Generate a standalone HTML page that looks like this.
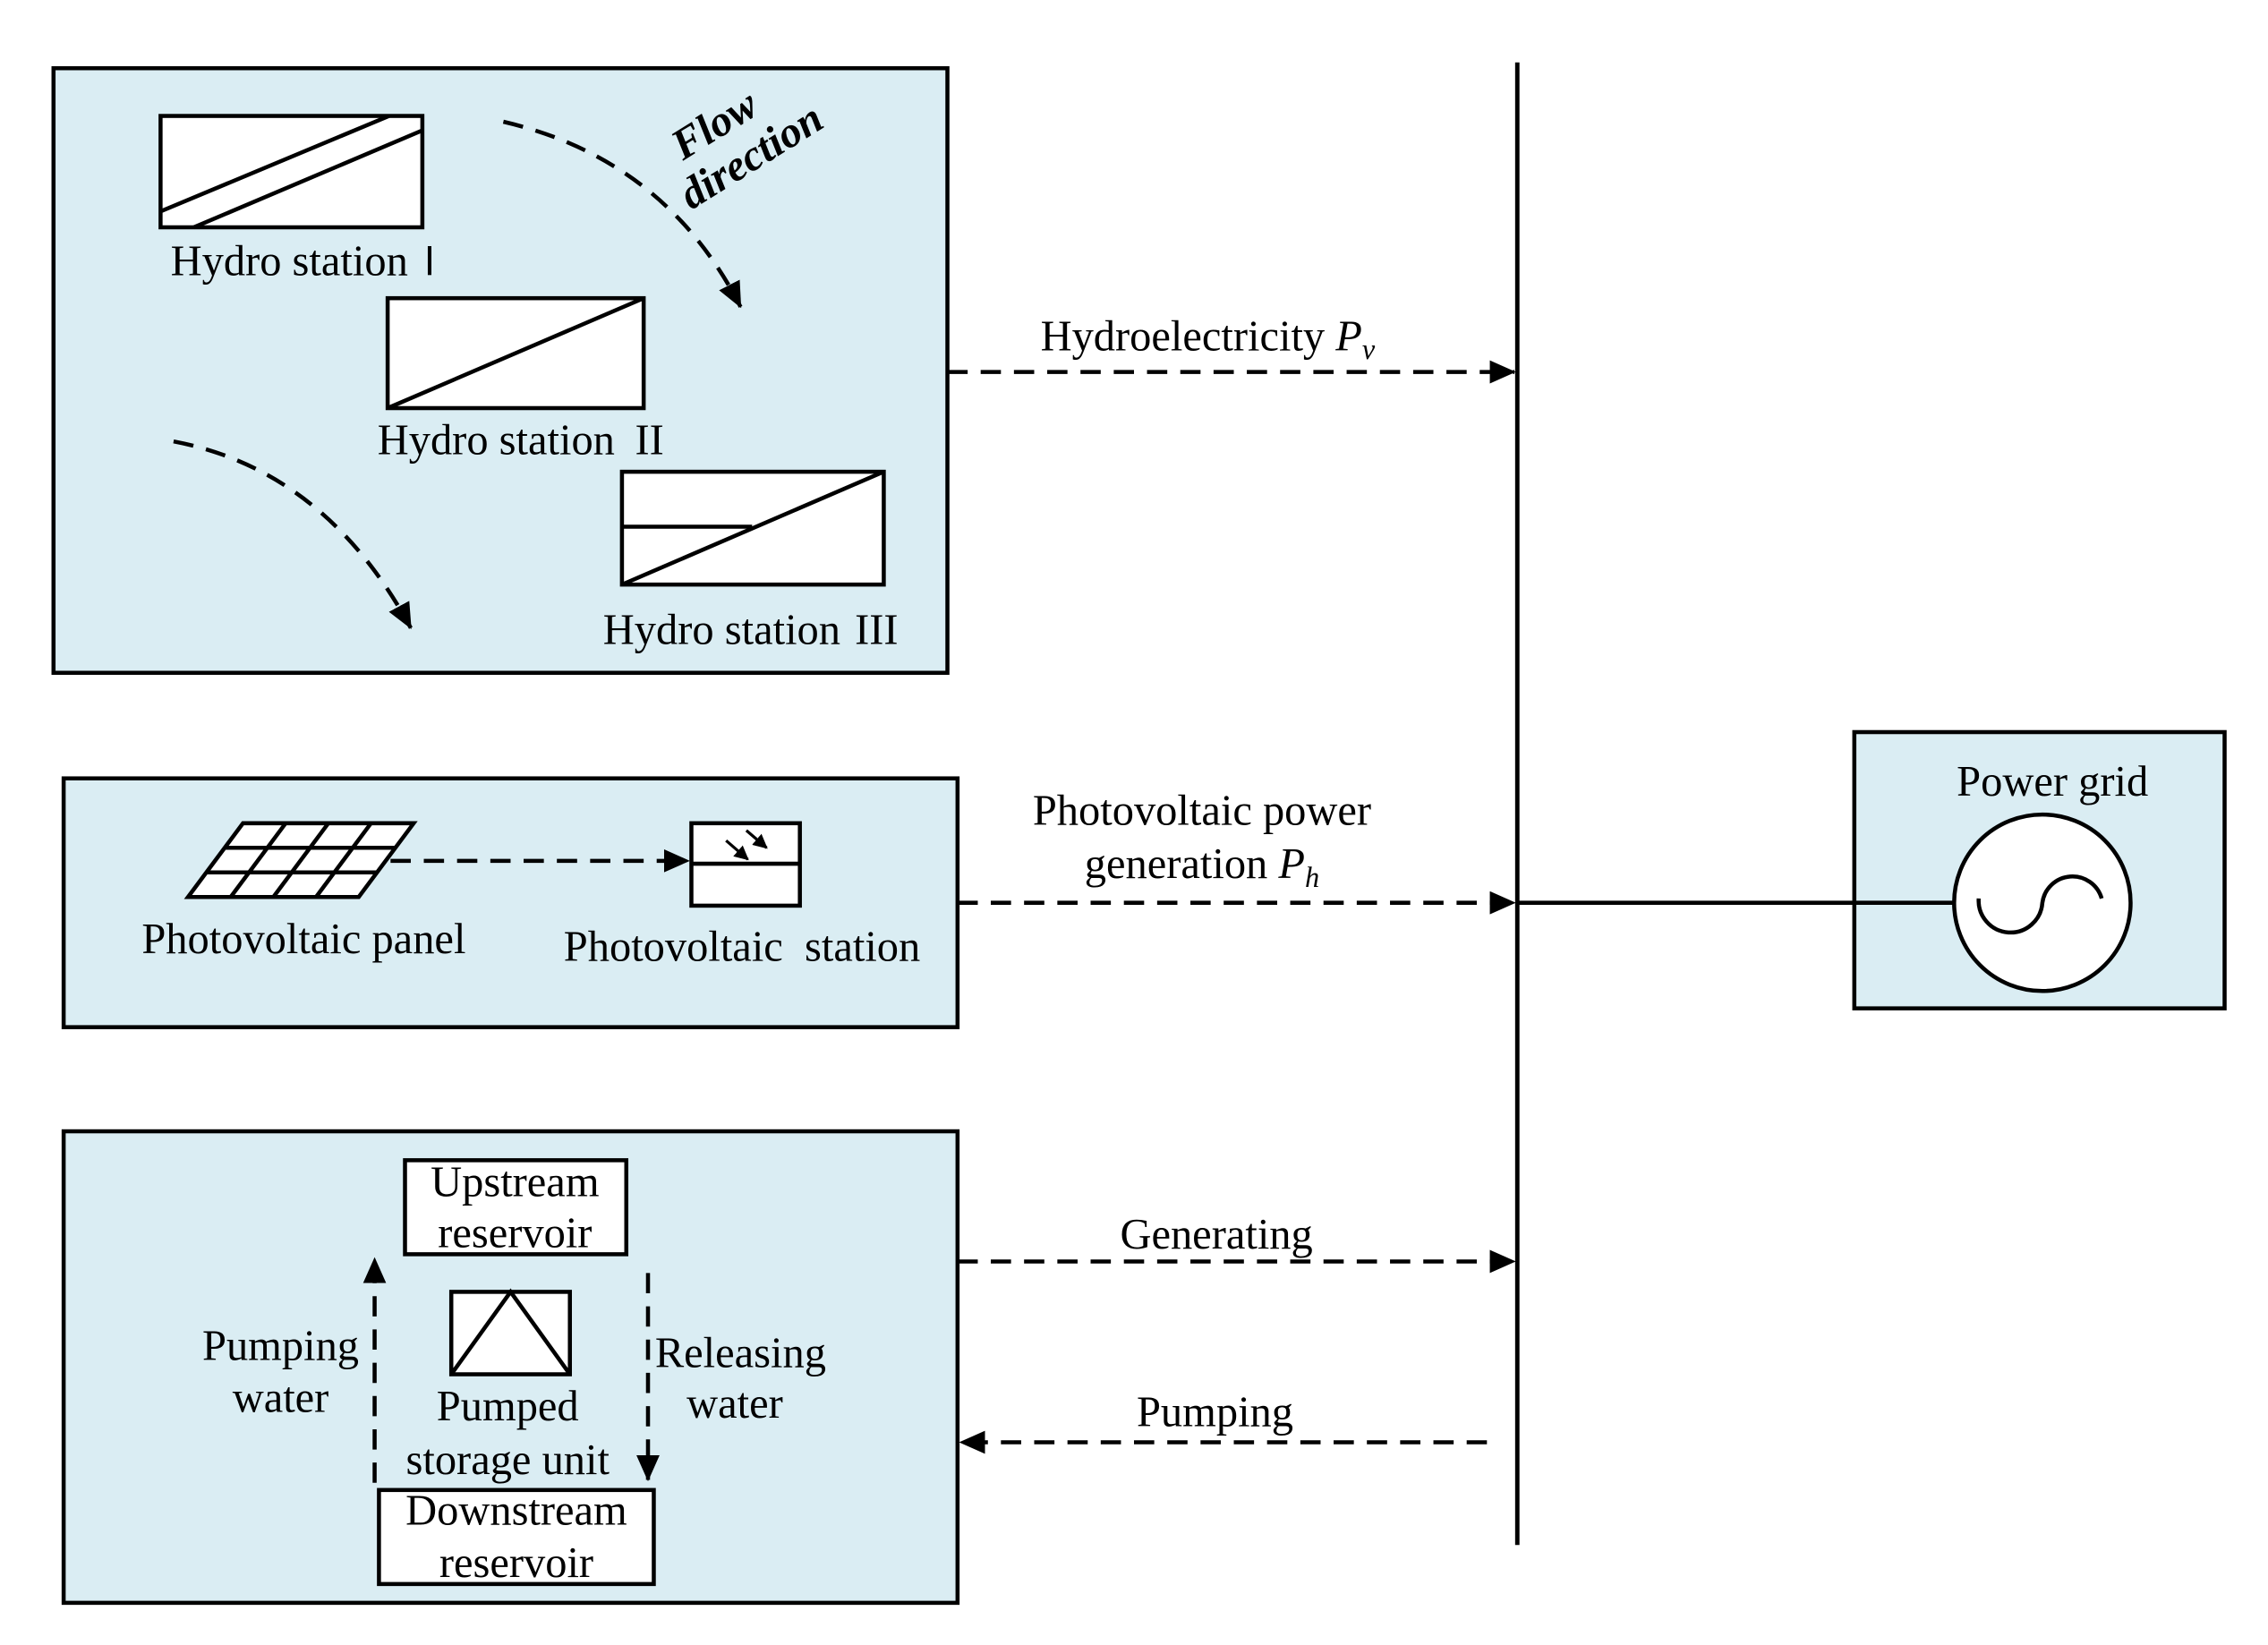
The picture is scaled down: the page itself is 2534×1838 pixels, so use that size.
<!DOCTYPE html>
<html><head><meta charset="utf-8"><style>html,body{margin:0;padding:0;background:#fff}svg{display:block}</style></head>
<body>
<svg width="2534" height="1838" viewBox="0 0 1568 1137" xmlns="http://www.w3.org/2000/svg" font-family="Liberation Serif, serif" font-size="30" fill="#000">
<defs>
<marker id="ah" markerWidth="10" markerHeight="10" refX="9" refY="5" orient="auto" markerUnits="userSpaceOnUse" viewBox="0 0 10 10"><path d="M0,0 L10,5 L0,10 z" fill="#000"/></marker>
<marker id="ahb" markerWidth="18" markerHeight="16" refX="17" refY="8" orient="auto" markerUnits="userSpaceOnUse" viewBox="0 0 18 16"><path d="M0,0 L18,8 L0,16 z" fill="#000"/></marker>
</defs>
<g stroke="#000" stroke-width="2.8">
<rect x="37" y="47" width="618" height="418" fill="#daedf3"/>
<rect x="44" y="538" width="618" height="172" fill="#daedf3"/>
<rect x="44" y="782" width="618" height="326" fill="#daedf3"/>
<rect x="1282" y="506" width="256" height="191" fill="#daedf3"/>
<rect x="111" y="80" width="181" height="77" fill="#fff"/>
<line x1="111" y1="146" x2="269" y2="80"/><line x1="134" y1="157" x2="292" y2="90"/>
<rect x="268" y="206" width="177" height="76" fill="#fff"/>
<line x1="268" y1="282" x2="445" y2="206"/>
<rect x="430" y="326" width="181" height="78" fill="#fff"/>
<line x1="430" y1="364" x2="520" y2="364"/><line x1="430" y1="404" x2="611" y2="326"/>
<path d="M348,84 Q460,110 512,212" fill="none" stroke-dasharray="14,9" marker-end="url(#ahb)"/>
<path d="M120,305 Q225,325 284,434" fill="none" stroke-dasharray="14,9" marker-end="url(#ahb)"/>
<line x1="1049" y1="43" x2="1049" y2="1068" stroke-width="3"/>
<line x1="655" y1="257" x2="1047" y2="257" stroke-dasharray="14,9" marker-end="url(#ahb)"/>
<line x1="662" y1="624" x2="1047" y2="624" stroke-dasharray="14,9" marker-end="url(#ahb)"/>
<line x1="662" y1="872" x2="1047" y2="872" stroke-dasharray="14,9" marker-end="url(#ahb)"/>
<line x1="1028" y1="997" x2="664" y2="997" stroke-dasharray="14,9" marker-end="url(#ahb)"/>
<line x1="1049" y1="624" x2="1352" y2="624"/>
<circle cx="1412" cy="624" r="61" fill="#fff"/>
<path d="M1368,621 A22,22 0 0 0 1412,624 A21,21 0 0 1 1453,621" fill="none"/>
<polygon points="168,569 286,569 248,620 130,620" fill="#fff"/>
<line x1="155" y1="586" x2="273" y2="586"/><line x1="143" y1="603" x2="261" y2="603"/>
<line x1="197.5" y1="569" x2="159.5" y2="620"/><line x1="227" y1="569" x2="189" y2="620"/><line x1="256.5" y1="569" x2="218.5" y2="620"/>
<line x1="270" y1="595" x2="476" y2="595" stroke-dasharray="14,9" marker-end="url(#ahb)"/>
<rect x="478" y="569" width="75" height="57" fill="#fff"/>
<line x1="478" y1="597" x2="553" y2="597"/>
<line x1="502" y1="581" x2="517" y2="594" stroke-width="2" marker-end="url(#ah)"/>
<line x1="516" y1="574" x2="530" y2="586" stroke-width="2" marker-end="url(#ah)"/>
<rect x="280" y="802" width="153" height="65" fill="#fff"/>
<rect x="262" y="1030" width="190" height="65" fill="#fff"/>
<rect x="312" y="893" width="82" height="57" fill="#fff"/>
<polyline points="312,950 353,893 394,950" fill="none"/>
<line x1="259" y1="1025" x2="259" y2="870" stroke-dasharray="14,9" marker-end="url(#ahb)"/>
<line x1="448" y1="880" x2="448" y2="1023" stroke-dasharray="14,9" marker-end="url(#ahb)"/>
</g>
<g text-anchor="middle">
<text x="200" y="190">Hydro station</text><line x1="297" y1="170" x2="297" y2="190" stroke="#000" stroke-width="2.5"/>
<text x="343" y="314">Hydro station</text><text x="449" y="314">II</text>
<text x="499" y="445">Hydro station</text><text x="606" y="445">III</text>
<g transform="translate(505,100) rotate(-32)" font-weight="bold" font-style="italic" font-size="30"><text x="-2" y="-8">Flow</text><text x="8" y="24">direction</text></g>
<text x="835" y="242">Hydroelectricity <tspan font-style="italic">P</tspan><tspan font-style="italic" font-size="20" dy="6">v</tspan></text>
<text x="831" y="570">Photovoltaic power</text>
<text x="831" y="607">generation <tspan font-style="italic">P</tspan><tspan font-style="italic" font-size="20" dy="6">h</tspan></text>
<text x="1419" y="550">Power grid</text>
<text x="210" y="659">Photovoltaic panel</text>
<text x="513" y="664" xml:space="preserve">Photovoltaic  station</text>
<text x="841" y="863">Generating</text>
<text x="840" y="986">Pumping</text>
<text x="356" y="827">Upstream</text>
<text x="356" y="862">reservoir</text>
<text x="357" y="1054">Downstream</text>
<text x="357" y="1090">reservoir</text>
<text x="351" y="982">Pumped</text>
<text x="351" y="1019">storage unit</text>
<text x="194" y="940">Pumping</text>
<text x="194" y="976">water</text>
<text x="512" y="945">Releasing</text>
<text x="508" y="980">water</text>
</g>
</svg>
</body></html>
